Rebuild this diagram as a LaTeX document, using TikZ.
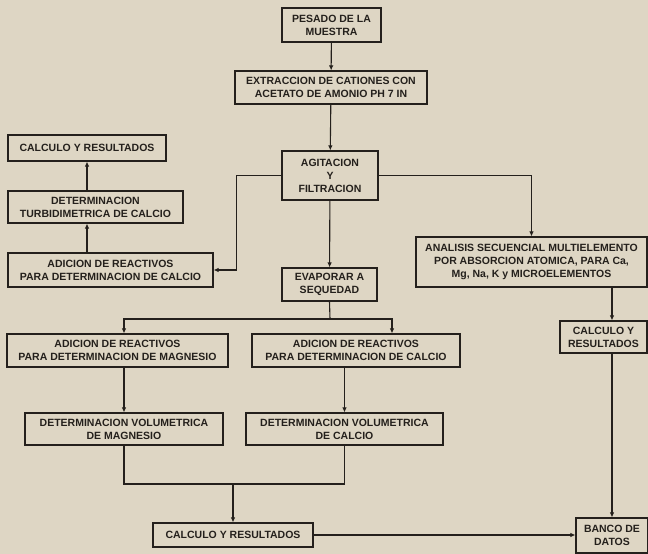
\documentclass[tikz,border=0pt]{standalone}
\usepackage{fontspec}
\setmainfont{Liberation Sans}
\usepackage{tikz}
\usetikzlibrary{arrows.meta}
\definecolor{paper}{RGB}{222,214,196}
\definecolor{ink}{RGB}{36,32,28}

\begin{document}
\begin{tikzpicture}[x=1pt,y=-1pt,->,>={Latex[length=5pt,width=4.5pt]},line width=1.1pt,color=ink]
  \tikzstyle{box}=[draw=ink,line width=1.1pt,align=center,inner sep=1pt,
                   font=\fontsize{10.5}{13}\selectfont\bfseries,text=ink]

  \fill[-,paper] (0,0) rectangle (648,554);
  \useasboundingbox (0,0) rectangle (648,554);

  \node[box,minimum width=99,minimum height=34]  at (331.5, 25.0) (pesado) {PESADO DE LA\\MUESTRA};
  \node[box,minimum width=192,minimum height=33] at (331.0, 87.5) (extrac) {EXTRACCION DE CATIONES CON\\ACETATO DE AMONIO PH 7 IN};
  \node[box,minimum width=96,minimum height=49]  at (330.0,175.5) (agita)  {AGITACION\\Y\\FILTRACION};
  \node[box,minimum width=158,minimum height=26] at ( 87.0,148.0) (calcA)  {CALCULO Y RESULTADOS};
  \node[box,minimum width=175,minimum height=32] at ( 95.5,207.0) (turbi)  {DETERMINACION\\TURBIDIMETRICA DE CALCIO};
  \node[box,minimum width=205,minimum height=34] at (110.5,270.0) (adiCaA) {ADICION DE REACTIVOS\\PARA DETERMINACION DE CALCIO};
  \node[box,minimum width=95,minimum height=33]  at (329.5,284.5) (evapo)  {EVAPORAR A\\SEQUEDAD};
  \node[box,minimum width=231,minimum height=50] at (531.5,262.0) (analis) {ANALISIS SECUENCIAL MULTIELEMENTO\\POR ABSORCION ATOMICA, PARA Ca,\\Mg, Na, K y MICROELEMENTOS};
  \node[box,minimum width=87,minimum height=32]  at (603.5,337.0) (calcB)  {CALCULO Y\\RESULTADOS};
  \node[box,minimum width=221,minimum height=33] at (117.5,350.5) (adiMg)  {ADICION DE REACTIVOS\\PARA DETERMINACION DE MAGNESIO};
  \node[box,minimum width=208,minimum height=33] at (356.0,350.5) (adiCaB) {ADICION DE REACTIVOS\\PARA DETERMINACION DE CALCIO};
  \node[box,minimum width=198,minimum height=32] at (124.0,429.0) (voluMg) {DETERMINACION VOLUMETRICA\\DE MAGNESIO};
  \node[box,minimum width=197,minimum height=32] at (344.5,429.0) (voluCa) {DETERMINACION VOLUMETRICA\\DE CALCIO};
  \node[box,minimum width=160,minimum height=24] at (233.0,535.0) (calcC)  {CALCULO Y RESULTADOS};
  \node[box,minimum width=72,minimum height=35]  at (612.0,535.5) (banco)  {BANCO DE\\DATOS};

  \coordinate (split) at (330,319);
  \coordinate (join)  at (233,484);

  \draw (pesado) -- (extrac);
  \draw (extrac) -- (agita);
  \draw (agita.west) -- ++(-45,0) |- (adiCaA.east);
  \draw (adiCaA.north -| calcA) -- (turbi.south -| calcA);
  \draw (turbi.north -| calcA) -- (calcA.south);
  \draw (agita.east) -| (analis.north);
  \draw (agita) -- (evapo);
  \draw[-] (evapo.south) -- (split);
  \draw (split) -| (adiMg.north -| voluMg);
  \draw (split) -| ([xshift=36pt]adiCaB.north);
  \draw (voluMg.north |- adiMg.south) -- (voluMg.north);
  \draw (voluCa.north |- adiCaB.south) -- (voluCa.north);
  \draw[-] (voluMg.south) |- (join) -| (voluCa.south);
  \draw (join) -- (calcC.north);
  \draw (analis.south -| banco) -- (calcB.north -| banco);
  \draw (calcB.south -| banco) -- (banco.north);
  \draw (calcC.east) -- (calcC.east -| banco.west);
\end{tikzpicture}
\end{document}
